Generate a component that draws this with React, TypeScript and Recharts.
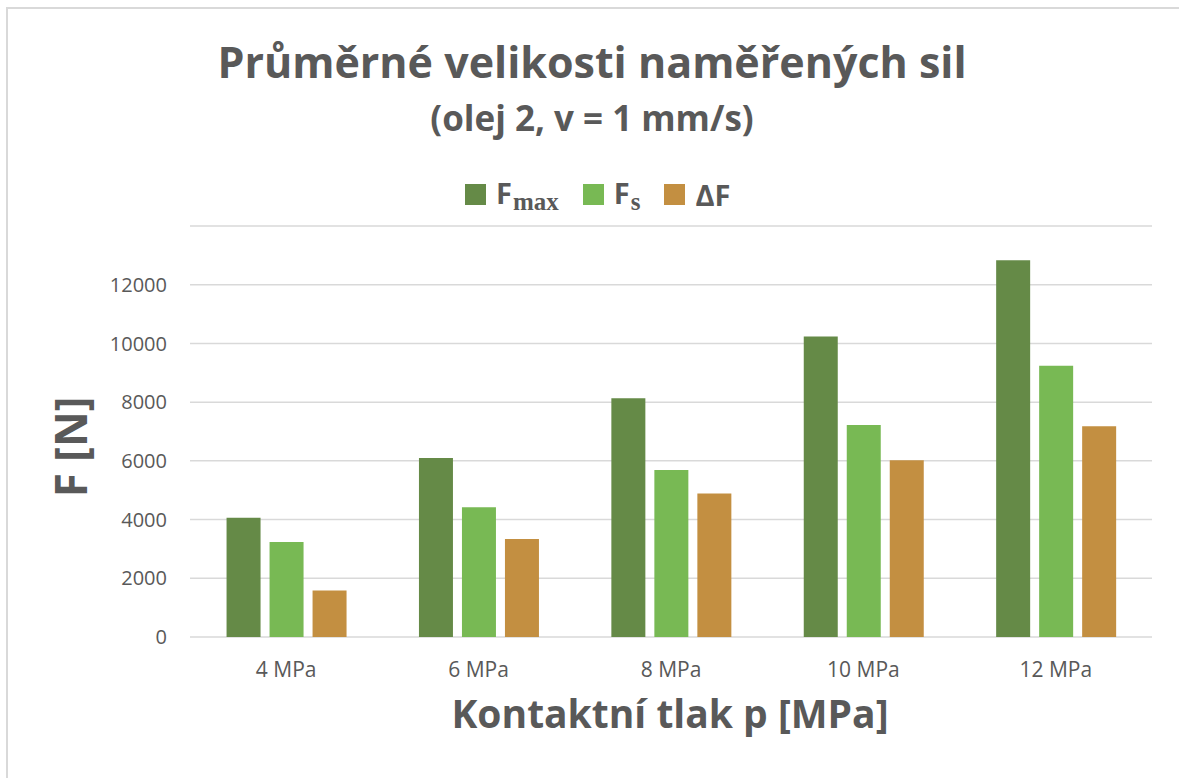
import { BarChart, Bar, XAxis, YAxis, CartesianGrid, Legend } from "recharts";

const categories = ["4 MPa", "6 MPa", "8 MPa", "10 MPa", "12 MPa"];
const fMax = [4060, 6100, 8130, 10240, 12830];
const fS = [3240, 4420, 5690, 7220, 9240];
const deltaF = [1580, 3340, 4890, 6020, 7180];
const yTicks = [0, 2000, 4000, 6000, 8000, 10000, 12000];

const SERIES = [
  { key: "fMax", base: "F", sub: "max", color: "#658A47" },
  { key: "fS", base: "F", sub: "s", color: "#78B954" },
  { key: "deltaF", base: "ΔF", sub: "", color: "#C38F41" },
];

const data = categories.map((cat, i) => ({
  cat,
  fMax: fMax[i],
  fS: fS[i],
  deltaF: deltaF[i],
}));

const TEXT = "#595959";
const FONT = "'Open Sans', sans-serif";

function LegendContent() {
  return (
    <div style={{ display: "flex", alignItems: "center", fontFamily: FONT }}>
      {SERIES.map((s, i) => (
        <div
          key={s.key}
          style={{ display: "flex", alignItems: "center", marginLeft: i === 0 ? 0 : 24 }}
        >
          <div style={{ width: 21, height: 21, background: s.color, marginRight: 10 }} />
          <span style={{ fontSize: 29, fontWeight: 700, color: TEXT, lineHeight: "36px" }}>
            {s.base}
            {s.sub && (
              <span
                style={{
                  fontFamily: "'Liberation Serif', serif",
                  fontSize: 25,
                  fontWeight: 700,
                  position: "relative",
                  top: 6,
                  marginLeft: 1,
                }}
              >
                {s.sub}
              </span>
            )}
          </span>
        </div>
      ))}
    </div>
  );
}

export default function App() {
  return (
    <div
      style={{
        position: "fixed",
        left: 0,
        top: 0,
        width: 1179,
        height: 778,
        overflow: "hidden",
        background: "#fff",
      }}
    >
      <div
        style={{
          position: "absolute",
          left: 6,
          top: 7,
          width: 1300,
          height: 900,
          borderTop: "2px solid #d9d9d9",
          borderLeft: "2px solid #d9d9d9",
        }}
      />
      <BarChart
        width={1179}
        height={778}
        data={data}
        margin={{ top: 226, right: 27, bottom: 81, left: 130 }}
        barCategoryGap="19%"
        barGap={9}
        style={{ position: "absolute", left: 0, top: 0 }}
      >
        <CartesianGrid vertical={false} stroke="#d9d9d9" strokeWidth={1.5} />
        <XAxis
          dataKey="cat"
          height={60}
          axisLine={false}
          tickLine={false}
          tickSize={0}
          tickMargin={25}
          tick={{ fontSize: 21, fontFamily: FONT, fill: TEXT }}
        />
        <YAxis
          width={60}
          domain={[0, 14000]}
          ticks={yTicks}
          axisLine={false}
          tickLine={false}
          tickSize={0}
          tickMargin={23}
          tick={{ fontSize: 20, fontFamily: FONT, fill: TEXT }}
        />
        <Legend
          layout="horizontal"
          verticalAlign="middle"
          align="center"
          content={<LegendContent />}
          wrapperStyle={{ top: 175, left: 465, width: "auto" }}
        />
        {SERIES.map((s) => (
          <Bar key={s.key} dataKey={s.key} fill={s.color} isAnimationActive={false} />
        ))}
      </BarChart>
      <svg
        width={1179}
        height={778}
        style={{ position: "absolute", left: 0, top: 0, pointerEvents: "none" }}
      >
        <g fontFamily={FONT} fontWeight={700} fill={TEXT} textAnchor="middle">
          <text x={592} y={78} fontSize={43}>
            Průměrné velikosti naměřených sil
          </text>
          <text x={592} y={131} fontSize={35}>
            (olej 2, v = 1 mm/s)
          </text>
          <text x={670} y={728} fontSize={39}>
            Kontaktní tlak p [MPa]
          </text>
          <text x={0} y={0} fontSize={44} transform="translate(87 447) rotate(-90)">
            F [N]
          </text>
        </g>
      </svg>
    </div>
  );
}
